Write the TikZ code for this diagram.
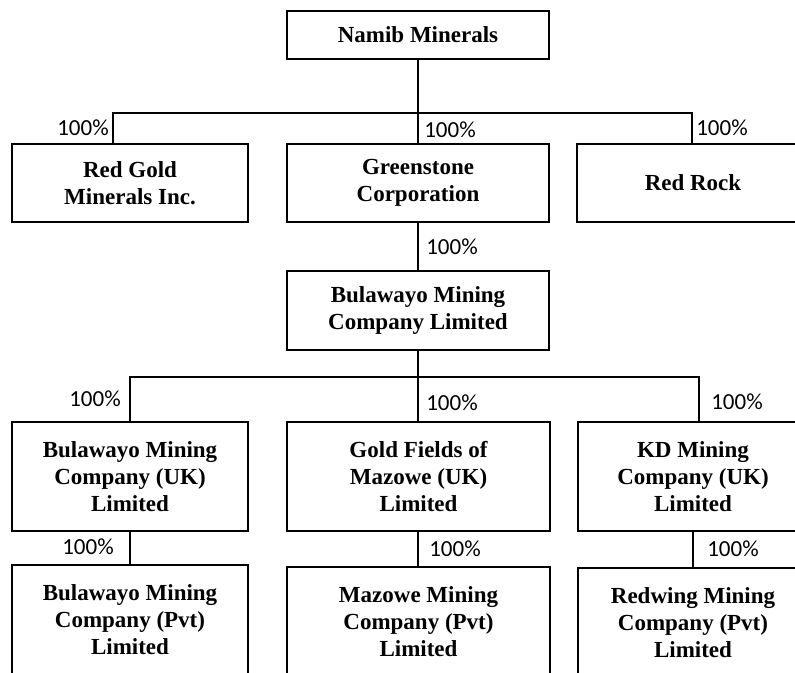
\documentclass[tikz,border=0pt]{standalone}
\usepackage{fontspec}
\setmainfont{Liberation Serif}
\newfontfamily\pctfont{Carlito}
\begin{document}
\begin{tikzpicture}[x=1pt,y=-1pt,
  box/.style={draw, line width=1.2pt, align=center, inner sep=0pt,
    font=\fontsize{23}{27}\selectfont\bfseries},
  link/.style={line width=1.1pt},
  pct/.style={font=\pctfont\fontsize{23}{25}\selectfont, inner sep=0pt}]
\useasboundingbox (0,0) rectangle (795,672);
% level 0
\node[box, minimum width=262pt, minimum height=48pt] (namib) at (418,35) {Namib Minerals};
% level 1
\node[box, minimum width=236pt, minimum height=78pt] (redgold) at (130,183) {Red Gold\\Minerals Inc.};
\node[box, minimum width=262pt, minimum height=78pt] (green) at (418,183) {Greenstone\\Corporation};
\node[box, minimum width=232pt, minimum height=78pt] (redrock) at (693,183) {Red Rock};
% level 2
\node[box, minimum width=262pt, minimum height=79pt] (bula) at (418,310.5) {Bulawayo Mining\\Company Limited};
% level 3
\node[box, minimum width=236pt, minimum height=109pt] (bmuk) at (130,476.5) {Bulawayo Mining\\Company (UK)\\Limited};
\node[box, minimum width=263pt, minimum height=109pt] (gfm) at (418.5,476.5) {Gold Fields of\\Mazowe (UK)\\Limited};
\node[box, minimum width=230pt, minimum height=109pt] (kd) at (693,476.5) {KD Mining\\Company (UK)\\Limited};
% level 4
\node[box, minimum width=236pt, minimum height=109pt] (bmpvt) at (130,619.5) {Bulawayo Mining\\Company (Pvt)\\Limited};
\node[box, minimum width=263pt, minimum height=109pt] (mmpvt) at (418.5,621.5) {Mazowe Mining\\Company (Pvt)\\Limited};
\node[box, minimum width=230pt, minimum height=109pt] (rwpvt) at (693,622.5) {Redwing Mining\\Company (Pvt)\\Limited};
% connector points
\coordinate (j1) at (418,113);
\coordinate (t1a) at (113,144);
\coordinate (t1c) at (692,144);
\coordinate (j2) at (418,377);
\coordinate (t3c) at (699,422);
% level 0 -> 1
\draw[link] (namib.south) -- (j1);
\draw[link] (t1a) |- (j1);
\draw[link] (j1) -- (green.north);
\draw[link] (j1) -| (t1c);
% level 1 -> 2
\draw[link] (green.south) -- (bula.north);
% level 2 -> 3
\draw[link] (bula.south) -- (j2);
\draw[link] (bmuk.north) |- (j2);
\draw[link] (j2) -- (gfm.north -| j2);
\draw[link] (j2) -| (t3c);
% level 3 -> 4
\draw[link] (bmuk.south) -- (bmpvt.north);
\draw[link] (gfm.south -| j2) -- (mmpvt.north -| j2);
\draw[link] (kd.south) -- (rwpvt.north);
% labels
\node[pct] (p1) at (83,128) {100\%};
\node[pct] (p2) at (450,130) {100\%};
\node[pct] (p3) at (722,128) {100\%};
\node[pct] (p4) at (452,247) {100\%};
\node[pct] (p5) at (95,399) {100\%};
\node[pct] (p6) at (452,403) {100\%};
\node[pct] (p7) at (737,402) {100\%};
\node[pct] (p8) at (88,547) {100\%};
\node[pct] (p9) at (455,549) {100\%};
\node[pct] (p10) at (733,549) {100\%};
\end{tikzpicture}
\end{document}
